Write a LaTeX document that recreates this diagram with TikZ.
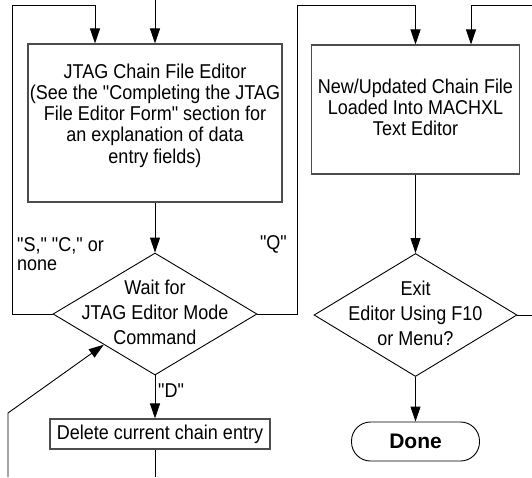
\documentclass[tikz,border=0pt]{standalone}
\usepackage{fontspec}
\setmainfont{Liberation Sans}[FakeStretch=0.9, Ligatures=TeXOff]
\newfontfamily\plainsans{Liberation Sans}
\usetikzlibrary{shapes.geometric,arrows.meta}

\tikzset{
  txt/.style={inner sep=0pt, align=center, font=\fontsize{20}{21.3}\selectfont},
  dtxt/.style={inner sep=0pt, align=center, font=\fontsize{20}{25}\selectfont},
  procbox/.style={draw=black!70, line width=1.1pt, rectangle, inner sep=0pt},
  decide/.style={draw=black, line width=0.9pt, diamond, inner sep=0pt},
  term/.style={draw=black, line width=0.9pt, rectangle, rounded corners=19pt, inner sep=0pt},
  conn/.style={draw=black, line width=0.9pt},
  arr/.style={conn, -{Triangle[length=15pt,width=10pt]}},
  lbl/.style={inner sep=0pt, font=\fontsize{20}{19}\selectfont}
}

\begin{document}
\begin{tikzpicture}[x=1pt, y=-1pt]
  \useasboundingbox (0,0) rectangle (532,477);

  % process boxes, decisions and terminal
  \node[procbox, minimum width=254pt, minimum height=158pt] (b1) at (155,123) {};
  \node[txt] (b1text) at (155,115.5) {JTAG Chain File Editor\\(See the "Completing the JTAG\\File Editor Form" section for\\an explanation of data\\entry fields)};

  \node[decide, minimum width=204pt, minimum height=122pt] (d1) at (155,314) {};
  \node[dtxt] (d1text) at (155,312) {Wait for\\JTAG Editor Mode\\Command};

  \node[procbox, minimum width=220pt, minimum height=30pt] (del) at (160,434) {};
  \node[txt] (deltext) at (160,434) {Delete current chain entry};

  \node[procbox, minimum width=208pt, minimum height=129pt] (b2) at (415.5,109.5) {};
  \node[txt] (b2text) at (415.5,107.5) {New/Updated Chain File\\Loaded Into MACHXL\\Text Editor};

  \node[decide, minimum width=203pt, minimum height=123pt] (d2) at (415.5,315) {};
  \node[dtxt] (d2text) at (415.5,313.5) {Exit\\Editor Using F10\\or Menu?};

  \node[term, minimum width=128pt, minimum height=39pt] (done) at (415.5,441.5) {};
  \node[inner sep=0pt, font=\plainsans\fontsize{21}{24}\bfseries\selectfont] (donetext) at (415.5,441.5) {Done};

  % route points
  \coordinate (inA) at (155,0);
  \coordinate (tl) at (12,5);
  \coordinate (tlx) at (95,5);
  \coordinate (tr) at (297,5);
  \coordinate (trx) at (415.5,5);
  \coordinate (re) at (532,5);
  \coordinate (rx) at (471,5);
  \coordinate (rout) at (532,315);
  \coordinate (bot) at (155,477);
  \coordinate (bl) at (8,477);
  \coordinate (bk) at (8,413);

  % connectors
  \draw[arr] (inA) -- (inA |- b1.north);
  \draw[arr] (d1.west) -| (tl) -- (tlx) -- (tlx |- b1.north);
  \draw[arr] (b1.south) -- (d1.north);
  \draw[arr] (d1.south) -- (d1.south |- del.north);
  \draw[conn] (bot |- del.south) -- (bot);
  \draw[arr] (bl) -- (bk) -- (d1.south west);
  \draw[arr] (d1.east) -| (tr) -- (trx) -- (b2.north);
  \draw[arr] (re) -- (rx) -- (rx |- b2.north);
  \draw[arr] (b2.south) -- (d2.north);
  \draw[conn] (d2.east) -- (rout);
  \draw[arr] (d2.south) -- (done.north);

  % branch labels
  \node[lbl, anchor=west] (lD) at (158,391) {"D"};
  \node[lbl, anchor=east] (lQ) at (287,244) {"Q"};
  \node[lbl, anchor=north west, align=left] (lS) at (17,237) {"S," "C," or\\none};
\end{tikzpicture}
\end{document}
